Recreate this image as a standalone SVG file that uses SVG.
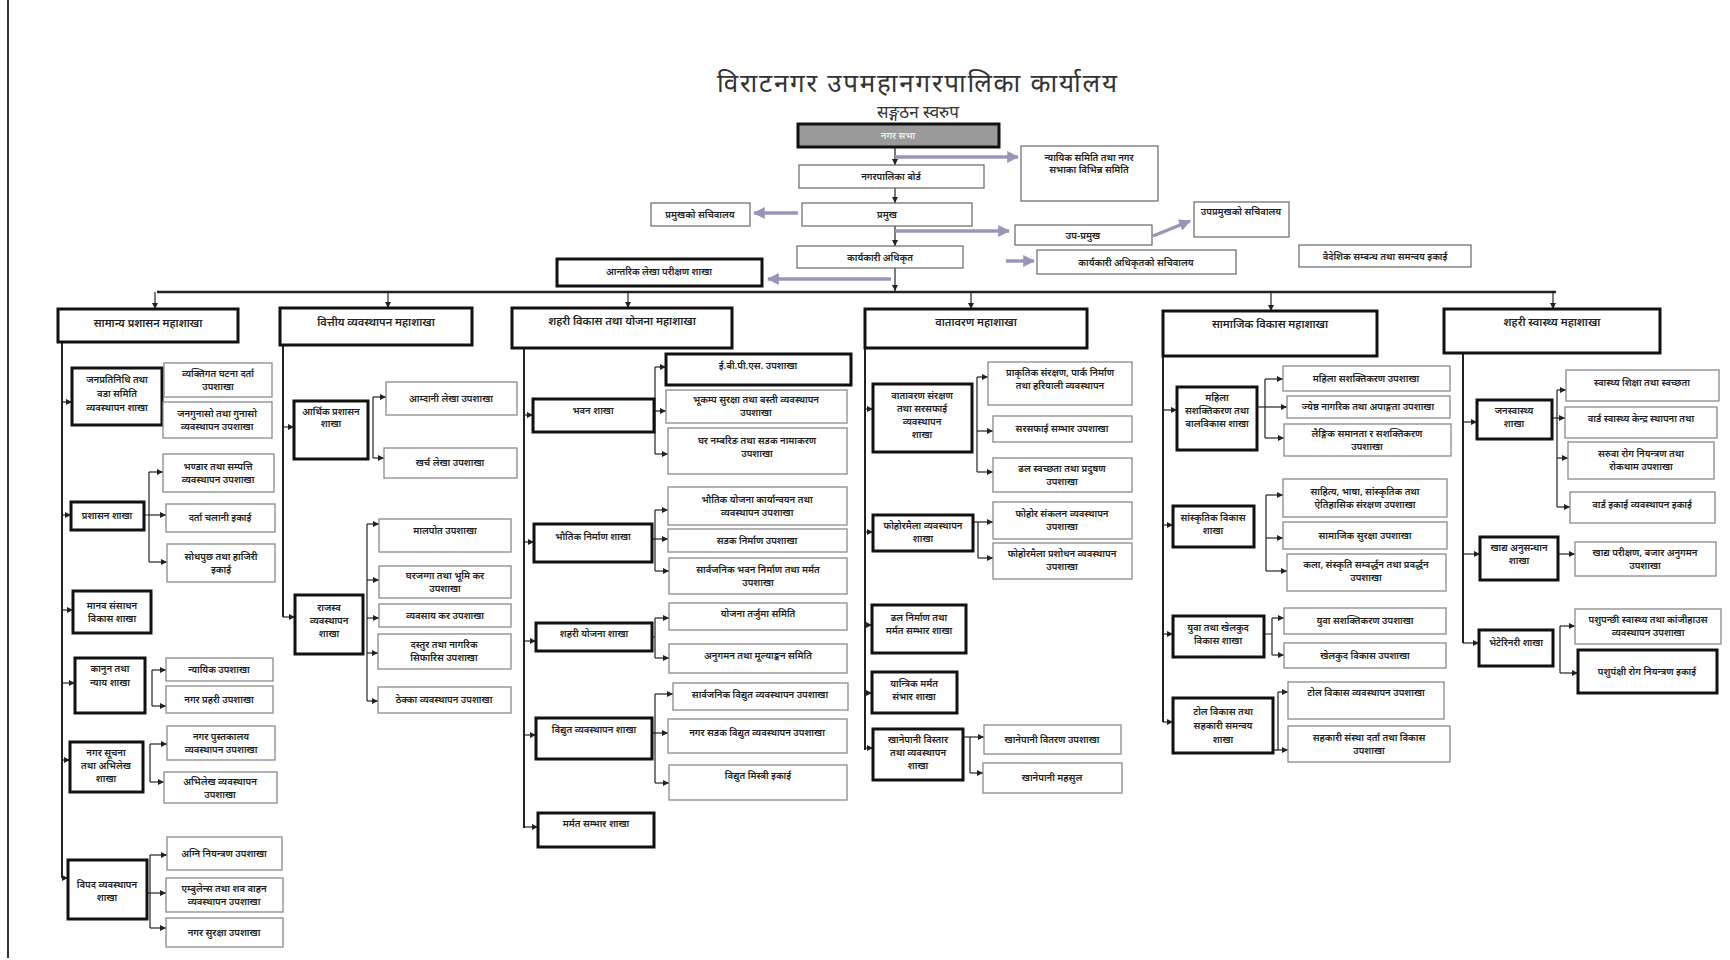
<svg xmlns="http://www.w3.org/2000/svg" width="1730" height="960" viewBox="0 0 1730 960">
<defs>
<marker id="ah" viewBox="0 0 10 10" refX="10" refY="5" markerWidth="6" markerHeight="6" orient="auto" markerUnits="userSpaceOnUse"><path d="M0,0 L10,5 L0,10 z" fill="#222"/></marker>
<marker id="ap" viewBox="0 0 10 10" refX="9" refY="5" markerWidth="12" markerHeight="12" orient="auto" markerUnits="userSpaceOnUse"><path d="M0,0 L10,5 L0,10 z" fill="#9896b8"/></marker>
<style>
text{font-family:"Noto Sans Devanagari","Noto Sans","Lohit Devanagari",sans-serif;fill:#222;text-anchor:middle}
.s{font-size:9.5px;font-weight:600}
.h{font-size:11px;font-weight:600}
.ti{font-size:26px;fill:#333}
.st{font-size:17px;fill:#333}
.thk{fill:#fff;stroke:#111;stroke-width:3}
.thn{fill:#fff;stroke:#8a8a8a;stroke-width:1.3}
.top{fill:#fff;stroke:#666;stroke-width:1.2}
.ln{fill:none;stroke:#222;stroke-width:1.2}
.sp{fill:none;stroke:#222;stroke-width:2}
.pu{fill:none;stroke:#9896b8;stroke-width:3.5}
</style>
</defs>
<rect x="0" y="0" width="1730" height="960" fill="#fff"/>
<line x1="8" y1="0" x2="8" y2="958" stroke="#333" stroke-width="2"/>

<g id="title">
<text class="ti" x="917" y="92" textLength="400" lengthAdjust="spacing">विराटनगर उपमहानगरपालिका कार्यालय</text>
<text class="st" x="918" y="118">सङ्गठन स्वरुप</text>
</g>

<g id="connectors">
<path class="ln" d="M895,147 V165" marker-end="url(#ah)"/>
<path class="ln" d="M895,188 V203" marker-end="url(#ah)"/>
<path class="ln" d="M895,226 V246" marker-end="url(#ah)"/>
<path class="ln" d="M895,268 V291" marker-end="url(#ah)"/>
<path class="pu" d="M895,157 H1018" marker-end="url(#ap)"/>
<path class="pu" d="M798,213 H754" marker-end="url(#ap)"/>
<path class="pu" d="M895,231 H1009" marker-end="url(#ap)"/>
<path class="pu" d="M1153,236 L1190,221" marker-end="url(#ap)"/>
<path class="pu" d="M1006,261 H1034" marker-end="url(#ap)"/>
<path class="pu" d="M891,279 H768" marker-end="url(#ap)"/>
<path d="M157,292 H1556" fill="none" stroke="#222" stroke-width="2.5"/>
<path class="ln" d="M155,292 V309" marker-end="url(#ah)"/>
<path class="ln" d="M388,292 V308" marker-end="url(#ah)"/>
<path class="ln" d="M628,292 V308" marker-end="url(#ah)"/>
<path class="ln" d="M971,292 V309" marker-end="url(#ah)"/>
<path class="ln" d="M1271,292 V311" marker-end="url(#ah)"/>
<path class="ln" d="M1553,292 V309" marker-end="url(#ah)"/>

<path class="sp" d="M62,342 V878"/>
<path class="ln" d="M62,402 H72" marker-end="url(#ah)"/>
<path class="ln" d="M62,515 H71" marker-end="url(#ah)"/>
<path class="ln" d="M62,610 H73" marker-end="url(#ah)"/>
<path class="ln" d="M62,683 H75" marker-end="url(#ah)"/>
<path class="ln" d="M62,760 H70" marker-end="url(#ah)"/>
<path class="ln" d="M62,878 H68" marker-end="url(#ah)"/>
<path class="ln" d="M144,515 H149 M149,472 V562"/>
<path class="ln" d="M149,472 H163" marker-end="url(#ah)"/>
<path class="ln" d="M149,515 H166" marker-end="url(#ah)"/>
<path class="ln" d="M149,562 H167" marker-end="url(#ah)"/>
<path class="ln" d="M152,670 V706" stroke="#9aa6b8"/>
<path class="ln" d="M152,670 H166" marker-end="url(#ah)"/>
<path class="ln" d="M152,706 H166" marker-end="url(#ah)"/>
<path class="ln" d="M150,744 V782" stroke="#9aa6b8"/>
<path class="ln" d="M150,744 H167" marker-end="url(#ah)"/>
<path class="ln" d="M150,782 H164" marker-end="url(#ah)"/>
<path class="ln" d="M150,855 V928"/>
<path class="ln" d="M150,855 H167" marker-end="url(#ah)"/>
<path class="ln" d="M147,893 H166" marker-end="url(#ah)"/>
<path class="ln" d="M150,928 H166" marker-end="url(#ah)"/>

<path class="sp" d="M283,345 V617"/>
<path class="ln" d="M283,427 H294" marker-end="url(#ah)"/>
<path class="ln" d="M283,617 H295" marker-end="url(#ah)"/>
<path class="ln" d="M373,397 V458"/>
<path class="ln" d="M373,397 H386" marker-end="url(#ah)"/>
<path class="ln" d="M373,458 H384" marker-end="url(#ah)"/>
<path class="ln" d="M367,524 V701"/>
<path class="ln" d="M367,524 H379" marker-end="url(#ah)"/>
<path class="ln" d="M367,580 H379" marker-end="url(#ah)"/>
<path class="ln" d="M367,618 H379" marker-end="url(#ah)"/>
<path class="ln" d="M367,653 H378" marker-end="url(#ah)"/>
<path class="ln" d="M367,701 H378" marker-end="url(#ah)"/>

<path class="sp" d="M524,348 V828"/>
<path class="ln" d="M524,415 H533" marker-end="url(#ah)"/>
<path class="ln" d="M524,542 H534" marker-end="url(#ah)"/>
<path class="ln" d="M524,641 H536" marker-end="url(#ah)"/>
<path class="ln" d="M524,735 H536" marker-end="url(#ah)"/>
<path class="ln" d="M524,827 H538" marker-end="url(#ah)"/>
<path class="ln" d="M655,367 V454"/>
<path class="ln" d="M655,367 H666" marker-end="url(#ah)"/>
<path class="ln" d="M654,411 H666" marker-end="url(#ah)"/>
<path class="ln" d="M655,454 H668" marker-end="url(#ah)"/>
<path class="ln" d="M655,510 V571"/>
<path class="ln" d="M655,510 H668" marker-end="url(#ah)"/>
<path class="ln" d="M652,539 H668" marker-end="url(#ah)"/>
<path class="ln" d="M655,571 H669" marker-end="url(#ah)"/>
<path class="ln" d="M652,637 H655 M655,618 V658"/>
<path class="ln" d="M655,618 H669" marker-end="url(#ah)"/>
<path class="ln" d="M655,658 H669" marker-end="url(#ah)"/>
<path class="ln" d="M655,694 V783"/>
<path class="ln" d="M655,694 H673" marker-end="url(#ah)"/>
<path class="ln" d="M652,733 H668" marker-end="url(#ah)"/>
<path class="ln" d="M655,783 H669" marker-end="url(#ah)"/>

<path class="sp" d="M865,348 V750"/>
<path class="ln" d="M865,409 H873" marker-end="url(#ah)"/>
<path class="ln" d="M865,532 H873" marker-end="url(#ah)"/>
<path class="ln" d="M865,625 H872" marker-end="url(#ah)"/>
<path class="ln" d="M865,693 H872" marker-end="url(#ah)"/>
<path class="ln" d="M865,748 H873" marker-end="url(#ah)"/>
<path class="ln" d="M977,377 V472"/>
<path class="ln" d="M977,377 H988" marker-end="url(#ah)"/>
<path class="ln" d="M977,431 H993" marker-end="url(#ah)"/>
<path class="ln" d="M977,472 H993" marker-end="url(#ah)"/>
<path class="ln" d="M978,522 V558"/>
<path class="ln" d="M973,522 H993" marker-end="url(#ah)"/>
<path class="ln" d="M978,558 H993" marker-end="url(#ah)"/>
<path class="ln" d="M970,737 V773"/>
<path class="ln" d="M963,737 H984" marker-end="url(#ah)"/>
<path class="ln" d="M970,773 H983" marker-end="url(#ah)"/>

<path class="sp" d="M1163,356 V722"/>
<path class="ln" d="M1163,410 H1177" marker-end="url(#ah)"/>
<path class="ln" d="M1163,525 H1173" marker-end="url(#ah)"/>
<path class="ln" d="M1163,634 H1173" marker-end="url(#ah)"/>
<path class="ln" d="M1163,722 H1173" marker-end="url(#ah)"/>
<path class="ln" d="M1265,379 V438"/>
<path class="ln" d="M1265,379 H1283" marker-end="url(#ah)"/>
<path class="ln" d="M1257,407 H1287" marker-end="url(#ah)"/>
<path class="ln" d="M1265,438 H1284" marker-end="url(#ah)"/>
<path class="ln" d="M1266,495 V571"/>
<path class="ln" d="M1266,495 H1283" marker-end="url(#ah)"/>
<path class="ln" d="M1266,538 H1283" marker-end="url(#ah)"/>
<path class="ln" d="M1266,571 H1287" marker-end="url(#ah)"/>
<path class="ln" d="M1264,634 H1272 M1272,618 V655"/>
<path class="ln" d="M1272,618 H1284" marker-end="url(#ah)"/>
<path class="ln" d="M1272,655 H1284" marker-end="url(#ah)"/>
<path class="ln" d="M1278,692 V750"/>
<path class="ln" d="M1278,692 H1288" marker-end="url(#ah)"/>
<path class="ln" d="M1273,750 H1288" marker-end="url(#ah)"/>

<path class="sp" d="M1463,353 V643"/>
<path class="ln" d="M1463,422 H1477" marker-end="url(#ah)"/>
<path class="ln" d="M1463,554 H1480" marker-end="url(#ah)"/>
<path class="ln" d="M1463,643 H1479" marker-end="url(#ah)"/>
<path class="ln" d="M1557,390 V507"/>
<path class="ln" d="M1557,390 H1566" marker-end="url(#ah)"/>
<path class="ln" d="M1552,418 H1565" marker-end="url(#ah)"/>
<path class="ln" d="M1557,458 H1568" marker-end="url(#ah)"/>
<path class="ln" d="M1557,507 H1570" marker-end="url(#ah)"/>
<path class="ln" d="M1558,554 H1575" marker-end="url(#ah)"/>
<path class="ln" d="M1560,626 V673"/>
<path class="ln" d="M1560,626 H1575" marker-end="url(#ah)"/>
<path class="ln" d="M1560,673 H1578" marker-end="url(#ah)"/>
</g>

<g id="n-sabha"><rect x="798" y="124" width="201" height="23" fill="#9a9a9a" stroke="#111" stroke-width="3"/><text class="s" x="898" y="139" style="fill:#eee">नगर सभा</text></g>
<g id="n-board"><rect class="top" x="799" y="165" width="185" height="23"/><text class="s" x="891" y="180">नगरपालिका बोर्ड</text></g>
<g id="n-samiti"><rect class="top" x="1021" y="146" width="137" height="55"/><text class="s" x="1089" y="161">न्यायिक समिति तथा नगर<tspan x="1089" dy="12">सभाका विभिन्न समिति</tspan></text></g>
<g id="n-pramukh"><rect class="top" x="802" y="203" width="170" height="23"/><text class="s" x="887" y="218">प्रमुख</text></g>
<g id="n-pramukh-sachib"><rect class="top" x="651" y="203" width="99" height="23"/><text class="s" x="700" y="218">प्रमुखको सचिवालय</text></g>
<g id="n-upapramukh"><rect class="top" x="1015" y="225" width="137" height="20"/><text class="s" x="1083" y="239">उप-प्रमुख</text></g>
<g id="n-upapramukh-sachib"><rect class="top" x="1194" y="202" width="95" height="35"/><text class="s" x="1241" y="215">उपप्रमुखको सचिवालय</text></g>
<g id="n-karyakari"><rect class="top" x="797" y="246" width="166" height="22"/><text class="s" x="880" y="261">कार्यकारी अधिकृत</text></g>
<g id="n-karyakari-sachib"><rect class="top" x="1037" y="250" width="199" height="24"/><text class="s" x="1136" y="266">कार्यकारी अधिकृतको सचिवालय</text></g>
<g id="n-baideshik"><rect class="top" x="1299" y="245" width="172" height="22"/><text class="s" x="1385" y="260">वैदेशिक सम्बन्ध तथा समन्वय इकाई</text></g>
<g id="n-lekha"><rect class="thk" x="557" y="259" width="205" height="27"/><text class="s" x="659" y="275">आन्तरिक लेखा परीक्षण शाखा</text></g>

<g id="c1-head"><rect class="thk" x="58" y="309" width="180" height="33"/><text class="h" x="148" y="327">सामान्य प्रशासन महाशाखा</text></g>
<g id="c1-b1"><rect class="thk" x="72" y="368" width="90" height="57"/><text class="s" x="117" y="383">जनप्रतिनिधि तथा<tspan x="117" dy="14">वडा समिति</tspan><tspan x="117" dy="14">व्यवस्थापन शाखा</tspan></text></g>
<g id="c1-s1a"><rect class="thn" x="164" y="363" width="108" height="34"/><text class="s" x="218" y="377">व्यक्तिगत घटना दर्ता<tspan x="218" dy="13">उपशाखा</tspan></text></g>
<g id="c1-s1b"><rect class="thn" x="163" y="402" width="109" height="36"/><text class="s" x="217" y="417">जनगुनासो तथा गुनासो<tspan x="217" dy="13">व्यवस्थापन उपशाखा</tspan></text></g>
<g id="c1-b2"><rect class="thk" x="71" y="502" width="73" height="28"/><text class="s" x="107" y="519">प्रशासन शाखा</text></g>
<g id="c1-s2a"><rect class="thn" x="163" y="454" width="111" height="38"/><text class="s" x="218" y="470">भण्डार तथा सम्पत्ति<tspan x="218" dy="13">व्यवस्थापन उपशाखा</tspan></text></g>
<g id="c1-s2b"><rect class="thn" x="166" y="504" width="109" height="28"/><text class="s" x="220" y="521">दर्ता चलानी इकाई</text></g>
<g id="c1-s2c"><rect class="thn" x="167" y="544" width="108" height="38"/><text class="s" x="221" y="560">सोधपुछ तथा हाजिरी<tspan x="221" dy="13">इकाई</tspan></text></g>
<g id="c1-b3"><rect class="thk" x="73" y="591" width="78" height="42"/><text class="s" x="112" y="609">मानव संसाधन<tspan x="112" dy="13">विकास शाखा</tspan></text></g>
<g id="c1-b4"><rect class="thk" x="75" y="658" width="70" height="55"/><text class="s" x="110" y="672">कानुन तथा<tspan x="110" dy="14">न्याय शाखा</tspan></text></g>
<g id="c1-s4a"><rect class="thn" x="166" y="658" width="107" height="23"/><text class="s" x="219" y="673">न्यायिक उपशाखा</text></g>
<g id="c1-s4b"><rect class="thn" x="166" y="686" width="107" height="27"/><text class="s" x="219" y="703">नगर प्रहरी उपशाखा</text></g>
<g id="c1-b5"><rect class="thk" x="70" y="742" width="73" height="50"/><text class="s" x="106" y="756">नगर सूचना<tspan x="106" dy="13">तथा अभिलेख</tspan><tspan x="106" dy="13">शाखा</tspan></text></g>
<g id="c1-s5a"><rect class="thn" x="167" y="726" width="108" height="34"/><text class="s" x="221" y="740">नगर पुस्तकालय<tspan x="221" dy="13">व्यवस्थापन उपशाखा</tspan></text></g>
<g id="c1-s5b"><rect class="thn" x="164" y="772" width="113" height="31"/><text class="s" x="220" y="785">अभिलेख व्यवस्थापन<tspan x="220" dy="13">उपशाखा</tspan></text></g>
<g id="c1-b6"><rect class="thk" x="68" y="860" width="79" height="59"/><text class="s" x="107" y="888">विपद व्यवस्थापन<tspan x="107" dy="13">शाखा</tspan></text></g>
<g id="c1-s6a"><rect class="thn" x="167" y="837" width="115" height="33"/><text class="s" x="224" y="857">अग्नि नियन्त्रण उपशाखा</text></g>
<g id="c1-s6b"><rect class="thn" x="166" y="878" width="117" height="34"/><text class="s" x="224" y="892">एम्बुलेन्स तथा शव वाहन<tspan x="224" dy="13">व्यवस्थापन उपशाखा</tspan></text></g>
<g id="c1-s6c"><rect class="thn" x="166" y="918" width="117" height="29"/><text class="s" x="224" y="936">नगर सुरक्षा उपशाखा</text></g>

<g id="c2-head"><rect class="thk" x="280" y="308" width="192" height="37"/><text class="h" x="376" y="326">वित्तीय व्यवस्थापन महाशाखा</text></g>
<g id="c2-b1"><rect class="thk" x="294" y="401" width="74" height="58"/><text class="s" x="331" y="415">आर्थिक प्रशासन<tspan x="331" dy="12">शाखा</tspan></text></g>
<g id="c2-s1a"><rect class="thn" x="386" y="382" width="131" height="33"/><text class="s" x="451" y="402">आम्दानी लेखा उपशाखा</text></g>
<g id="c2-s1b"><rect class="thn" x="384" y="448" width="133" height="30"/><text class="s" x="450" y="466">खर्च लेखा उपशाखा</text></g>
<g id="c2-b2"><rect class="thk" x="295" y="595" width="68" height="59"/><text class="s" x="329" y="611">राजस्व<tspan x="329" dy="13">व्यवस्थापन</tspan><tspan x="329" dy="13">शाखा</tspan></text></g>
<g id="c2-s2a"><rect class="thn" x="379" y="519" width="132" height="33"/><text class="s" x="445" y="534">मालपोत उपशाखा</text></g>
<g id="c2-s2b"><rect class="thn" x="379" y="566" width="132" height="32"/><text class="s" x="445" y="579">घरजग्गा तथा भूमि कर<tspan x="445" dy="13">उपशाखा</tspan></text></g>
<g id="c2-s2c"><rect class="thn" x="379" y="604" width="132" height="23"/><text class="s" x="445" y="619">व्यवसाय कर उपशाखा</text></g>
<g id="c2-s2d"><rect class="thn" x="378" y="634" width="133" height="35"/><text class="s" x="444" y="648">दस्तुर तथा नागरिक<tspan x="444" dy="13">सिफारिस उपशाखा</tspan></text></g>
<g id="c2-s2e"><rect class="thn" x="378" y="687" width="133" height="26"/><text class="s" x="444" y="703">ठेक्का व्यवस्थापन उपशाखा</text></g>

<g id="c3-head"><rect class="thk" x="512" y="308" width="220" height="40"/><text class="h" x="622" y="325">शहरी विकास तथा योजना महाशाखा</text></g>
<g id="c3-b1"><rect class="thk" x="533" y="399" width="121" height="33"/><text class="s" x="593" y="414">भवन शाखा</text></g>
<g id="c3-s1a"><rect class="thk" x="666" y="354" width="185" height="31"/><text class="s" x="758" y="369">ई.बी.पी.एस. उपशाखा</text></g>
<g id="c3-s1b"><rect class="thn" x="666" y="390" width="181" height="33"/><text class="s" x="756" y="403">भूकम्प सुरक्षा तथा बस्ती व्यवस्थापन<tspan x="756" dy="13">उपशाखा</tspan></text></g>
<g id="c3-s1c"><rect class="thn" x="668" y="428" width="179" height="46"/><text class="s" x="757" y="444">घर नम्बरिङ तथा सडक नामाकरण<tspan x="757" dy="13">उपशाखा</tspan></text></g>
<g id="c3-b2"><rect class="thk" x="534" y="524" width="118" height="38"/><text class="s" x="593" y="540">भौतिक निर्माण शाखा</text></g>
<g id="c3-s2a"><rect class="thn" x="668" y="487" width="179" height="38"/><text class="s" x="757" y="503">भौतिक योजना कार्यान्वयन तथा<tspan x="757" dy="13">व्यवस्थापन उपशाखा</tspan></text></g>
<g id="c3-s2b"><rect class="thn" x="668" y="529" width="179" height="23"/><text class="s" x="757" y="544">सडक निर्माण उपशाखा</text></g>
<g id="c3-s2c"><rect class="thn" x="669" y="558" width="178" height="36"/><text class="s" x="758" y="573">सार्वजनिक भवन निर्माण तथा मर्मत<tspan x="758" dy="13">उपशाखा</tspan></text></g>
<g id="c3-b3"><rect class="thk" x="536" y="623" width="116" height="28"/><text class="s" x="594" y="637">शहरी योजना शाखा</text></g>
<g id="c3-s3a"><rect class="thn" x="669" y="603" width="178" height="27"/><text class="s" x="758" y="617">योजना तर्जुमा समिति</text></g>
<g id="c3-s3b"><rect class="thn" x="669" y="644" width="178" height="29"/><text class="s" x="758" y="659">अनुगमन तथा मूल्याङ्कन समिति</text></g>
<g id="c3-b4"><rect class="thk" x="536" y="718" width="116" height="41"/><text class="s" x="594" y="733">विद्युत व्यवस्थापन शाखा</text></g>
<g id="c3-s4a"><rect class="thn" x="673" y="683" width="175" height="27"/><text class="s" x="760" y="698">सार्वजनिक विद्युत व्यवस्थापन उपशाखा</text></g>
<g id="c3-s4b"><rect class="thn" x="668" y="719" width="179" height="34"/><text class="s" x="757" y="736">नगर सडक विद्युत व्यवस्थापन उपशाखा</text></g>
<g id="c3-s4c"><rect class="thn" x="669" y="765" width="178" height="35"/><text class="s" x="758" y="779">विद्युत मिस्त्री इकाई</text></g>
<g id="c3-b5"><rect class="thk" x="538" y="813" width="116" height="34"/><text class="s" x="596" y="827">मर्मत सम्भार शाखा</text></g>

<g id="c4-head"><rect class="thk" x="865" y="309" width="222" height="39"/><text class="h" x="976" y="326">वातावरण महाशाखा</text></g>
<g id="c4-b1"><rect class="thk" x="873" y="384" width="99" height="68"/><text class="s" x="922" y="399">वातावरण संरक्षण<tspan x="922" dy="13">तथा सरसफाई</tspan><tspan x="922" dy="13">व्यवस्थापन</tspan><tspan x="922" dy="13">शाखा</tspan></text></g>
<g id="c4-s1a"><rect class="thn" x="988" y="362" width="144" height="43"/><text class="s" x="1060" y="376">प्राकृतिक संरक्षण, पार्क निर्माण<tspan x="1060" dy="13">तथा हरियाली व्यवस्थापन</tspan></text></g>
<g id="c4-s1b"><rect class="thn" x="993" y="416" width="139" height="26"/><text class="s" x="1062" y="432">सरसफाई सम्भार उपशाखा</text></g>
<g id="c4-s1c"><rect class="thn" x="993" y="458" width="139" height="34"/><text class="s" x="1062" y="472">ढल स्वच्छता तथा प्रदुषण<tspan x="1062" dy="13">उपशाखा</tspan></text></g>
<g id="c4-b2"><rect class="thk" x="873" y="515" width="100" height="36"/><text class="s" x="923" y="529">फोहोरमैला व्यवस्थापन<tspan x="923" dy="13">शाखा</tspan></text></g>
<g id="c4-s2a"><rect class="thn" x="993" y="502" width="139" height="37"/><text class="s" x="1062" y="517">फोहोर संकलन व्यवस्थापन<tspan x="1062" dy="13">उपशाखा</tspan></text></g>
<g id="c4-s2b"><rect class="thn" x="993" y="543" width="139" height="36"/><text class="s" x="1062" y="557">फोहोरमैला प्रशोधन व्यवस्थापन<tspan x="1062" dy="13">उपशाखा</tspan></text></g>
<g id="c4-b3"><rect class="thk" x="872" y="605" width="94" height="48"/><text class="s" x="919" y="621">ढल निर्माण तथा<tspan x="919" dy="13">मर्मत सम्भार शाखा</tspan></text></g>
<g id="c4-b4"><rect class="thk" x="872" y="672" width="85" height="41"/><text class="s" x="914" y="687">यान्त्रिक मर्मत<tspan x="914" dy="13">संभार शाखा</tspan></text></g>
<g id="c4-b5"><rect class="thk" x="873" y="729" width="90" height="51"/><text class="s" x="918" y="743">खानेपानी विस्तार<tspan x="918" dy="13">तथा व्यवस्थापन</tspan><tspan x="918" dy="13">शाखा</tspan></text></g>
<g id="c4-s5a"><rect class="thn" x="984" y="725" width="137" height="29"/><text class="s" x="1052" y="743">खानेपानी वितरण उपशाखा</text></g>
<g id="c4-s5b"><rect class="thn" x="983" y="763" width="139" height="30"/><text class="s" x="1052" y="781">खानेपानी महसुल</text></g>

<g id="c5-head"><rect class="thk" x="1163" y="311" width="214" height="45"/><text class="h" x="1270" y="328">सामाजिक विकास महाशाखा</text></g>
<g id="c5-b1"><rect class="thk" x="1177" y="387" width="80" height="63"/><text class="s" x="1217" y="401">महिला<tspan x="1217" dy="13">सशक्तिकरण तथा</tspan><tspan x="1217" dy="13">बालविकास शाखा</tspan></text></g>
<g id="c5-s1a"><rect class="thn" x="1283" y="366" width="167" height="25"/><text class="s" x="1366" y="382">महिला सशक्तिकरण उपशाखा</text></g>
<g id="c5-s1b"><rect class="thn" x="1287" y="396" width="163" height="22"/><text class="s" x="1368" y="410">ज्येष्ठ नागरिक तथा अपाङ्गता उपशाखा</text></g>
<g id="c5-s1c"><rect class="thn" x="1284" y="424" width="167" height="32"/><text class="s" x="1367" y="437">लैङ्गिक समानता र सशक्तिकरण<tspan x="1367" dy="13">उपशाखा</tspan></text></g>
<g id="c5-b2"><rect class="thk" x="1173" y="506" width="81" height="41"/><text class="s" x="1213" y="521">सांस्कृतिक विकास<tspan x="1213" dy="13">शाखा</tspan></text></g>
<g id="c5-s2a"><rect class="thn" x="1283" y="479" width="164" height="38"/><text class="s" x="1365" y="495">साहित्य, भाषा, सांस्कृतिक तथा<tspan x="1365" dy="13">ऐतिहासिक संरक्षण उपशाखा</tspan></text></g>
<g id="c5-s2b"><rect class="thn" x="1283" y="522" width="164" height="27"/><text class="s" x="1365" y="539">सामाजिक सुरक्षा उपशाखा</text></g>
<g id="c5-s2c"><rect class="thn" x="1287" y="554" width="159" height="37"/><text class="s" x="1366" y="568">कला, संस्कृति सम्वर्द्धन तथा प्रवर्द्धन<tspan x="1366" dy="13">उपशाखा</tspan></text></g>
<g id="c5-b3"><rect class="thk" x="1173" y="616" width="91" height="41"/><text class="s" x="1218" y="631">युवा तथा खेलकुद<tspan x="1218" dy="13">विकास शाखा</tspan></text></g>
<g id="c5-s3a"><rect class="thn" x="1284" y="608" width="162" height="26"/><text class="s" x="1365" y="624">युवा सशक्तिकरण उपशाखा</text></g>
<g id="c5-s3b"><rect class="thn" x="1284" y="643" width="162" height="25"/><text class="s" x="1365" y="659">खेलकुद विकास उपशाखा</text></g>
<g id="c5-b4"><rect class="thk" x="1173" y="698" width="100" height="55"/><text class="s" x="1223" y="715">टोल विकास तथा<tspan x="1223" dy="14">सहकारी समन्वय</tspan><tspan x="1223" dy="14">शाखा</tspan></text></g>
<g id="c5-s4a"><rect class="thn" x="1288" y="682" width="156" height="37"/><text class="s" x="1366" y="696">टोल विकास व्यवस्थापन उपशाखा</text></g>
<g id="c5-s4b"><rect class="thn" x="1288" y="726" width="162" height="36"/><text class="s" x="1369" y="741">सहकारी संस्था दर्ता तथा विकास<tspan x="1369" dy="13">उपशाखा</tspan></text></g>

<g id="c6-head"><rect class="thk" x="1444" y="309" width="216" height="44"/><text class="h" x="1552" y="326">शहरी स्वास्थ्य महाशाखा</text></g>
<g id="c6-b1"><rect class="thk" x="1477" y="400" width="75" height="39"/><text class="s" x="1514" y="414">जनस्वास्थ्य<tspan x="1514" dy="13">शाखा</tspan></text></g>
<g id="c6-s1a"><rect class="thn" x="1566" y="370" width="153" height="31"/><text class="s" x="1642" y="386">स्वास्थ्य शिक्षा तथा स्वच्छता</text></g>
<g id="c6-s1b"><rect class="thn" x="1565" y="407" width="152" height="31"/><text class="s" x="1641" y="422">वार्ड स्वास्थ्य केन्द्र स्थापना तथा</text></g>
<g id="c6-s1c"><rect class="thn" x="1568" y="442" width="146" height="37"/><text class="s" x="1641" y="457">सरुवा रोग नियन्त्रण तथा<tspan x="1641" dy="13">रोकथाम उपशाखा</tspan></text></g>
<g id="c6-s1d"><rect class="thn" x="1570" y="492" width="145" height="31"/><text class="s" x="1642" y="508">वार्ड इकाई व्यवस्थापन इकाई</text></g>
<g id="c6-b2"><rect class="thk" x="1480" y="537" width="78" height="43"/><text class="s" x="1519" y="551">खाद्य अनुसन्धान<tspan x="1519" dy="13">शाखा</tspan></text></g>
<g id="c6-s2"><rect class="thn" x="1575" y="542" width="141" height="34"/><text class="s" x="1645" y="556">खाद्य परीक्षण, बजार अनुगमन<tspan x="1645" dy="13">उपशाखा</tspan></text></g>
<g id="c6-b3"><rect class="thk" x="1479" y="630" width="74" height="36"/><text class="s" x="1516" y="646">भेटेरिनरी शाखा</text></g>
<g id="c6-s3a"><rect class="thn" x="1575" y="609" width="146" height="35"/><text class="s" x="1648" y="623">पशुपन्छी स्वास्थ्य तथा कांजीहाउस<tspan x="1648" dy="13">व्यवस्थापन उपशाखा</tspan></text></g>
<g id="c6-s3b"><rect class="thk" x="1578" y="650" width="139" height="43"/><text class="s" x="1647" y="675">पशुपंक्षी रोग नियन्त्रण इकाई</text></g>
</svg>
